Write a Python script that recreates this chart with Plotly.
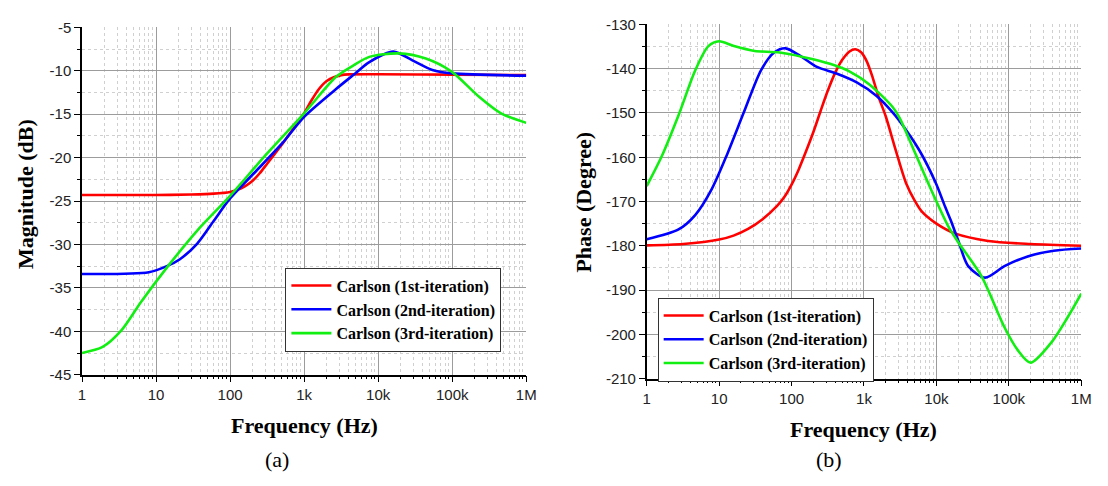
import plotly.graph_objects as go

# ---- (a) magnitude response, dB ----
mag_f_1st = [1, 10, 30, 60, 100, 126, 158, 200, 251, 316, 398, 501, 631, 794, 1000, 1259, 1585,
             1995, 2512, 3162, 3981, 10000, 100000, 1000000]
mag_v_1st = [-24.3, -24.3, -24.25, -24.15, -23.95, -23.7, -23.3, -22.7, -21.8, -20.7, -19.6, -18.5,
             -17.3, -16.1, -14.9, -13.4, -12.1, -11.2, -10.75, -10.5, -10.42, -10.4, -10.45, -10.5]

mag_f_2nd = [1, 8, 14, 21, 36, 60, 100, 210, 500, 1000, 2700, 4600, 7600, 16000, 29000, 54000, 100000, 1000000]
mag_v_2nd = [-33.4, -33.2, -32.5, -31.7, -29.9, -27.3, -24.7, -21.8, -18.4, -15.3, -12.1, -10.5, -9.0, -7.8, -8.8, -9.9, -10.3, -10.56]

mag_f_3rd = [1, 1.9, 3.4, 6.3, 14.5, 36, 100, 310, 1000, 2700, 4600, 7600, 19000, 44000, 98000, 224000, 457000, 1000000]
mag_v_3rd = [-42.5, -41.8, -39.9, -36.6, -32.5, -28.4, -24.4, -19.6, -14.9, -10.7, -9.4, -8.4, -8.0, -8.6, -10.1, -12.9, -14.9, -16.0]

# ---- (b) phase response, degrees ----
ph_f_1st = [1, 3.2, 10, 15.8, 25.1, 39.8, 63.1, 79.4, 100, 126, 158, 200, 251, 316, 398, 501, 631, 759,
            912, 1096, 1318, 1585, 2000, 2754, 3800, 5012, 6310, 10000, 18000, 52000, 200000, 1000000]
ph_v_1st = [-179.9, -179.6, -178.6, -177.7, -176.2, -174.0, -171.0, -169.0, -166.2, -162.7, -158.7,
            -154.3, -149.6, -145.0, -141.0, -138.0, -136.1, -135.6, -136.3, -138.4, -142.0, -146.3,
            -150.8, -158.5, -165.8, -169.8, -172.3, -175.0, -177.2, -178.9, -179.6, -180.0]

ph_f_2nd = [1, 2.75, 4.7, 7.9, 13, 22, 38, 58, 83, 132, 224, 417, 794, 1480, 2500, 3100, 5750, 9800, 13200, 16000, 20000, 27500, 47000, 87000, 182000, 417000, 1000000]
ph_v_2nd = [-178.5, -176.3, -173.0, -167.2, -159.2, -149.8, -140.3, -136.3, -135.4, -137.1, -139.6, -141.1, -143.1, -146.1, -149.9, -151.8, -158.3, -165.8, -171.2, -174.5, -178.8, -184.6, -187.2, -184.6, -182.4, -181.1, -180.6]

ph_f_3rd = [1, 1.6, 2.75, 4.7, 7.1, 10, 16, 31, 65, 148, 339, 646, 1200, 2500, 3100, 5100, 8700, 14800, 20000, 41700, 87000, 132000, 200000, 380000, 646000, 1000000]
ph_v_3rd = [-166.5, -159.9, -150.5, -140.3, -134.9, -133.8, -134.9, -136.0, -136.3, -137.4, -138.9, -140.7, -143.6, -148.7, -151.1, -159.1, -167.8, -175.8, -179.2, -186.8, -198.4, -203.5, -206.4, -202.0, -196.2, -190.8]

series_names = ["Carlson (1st-iteration)", "Carlson (2nd-iteration)", "Carlson (3rd-iteration)"]
series_colors = ["#ff0000", "#0000ff", "#11ee11"]

freq_ticks = [1, 10, 100, 1000, 10000, 100000, 1000000]
freq_labels = ["1", "10", "100", "1k", "10k", "100k", "1M"]
mag_ticks = [-45, -40, -35, -30, -25, -20, -15, -10, -5]
phase_ticks = [-210, -200, -190, -180, -170, -160, -150, -140, -130]

freq_minor = [m * 10 ** d for d in range(6) for m in range(2, 10)]
mag_minor = [t + 2.5 for t in mag_ticks[:-1]]
phase_minor = [t + 5 for t in phase_ticks[:-1]]

fig = go.Figure()

mag_sets = [(mag_f_1st, mag_v_1st), (mag_f_2nd, mag_v_2nd), (mag_f_3rd, mag_v_3rd)]
ph_sets = [(ph_f_1st, ph_v_1st), (ph_f_2nd, ph_v_2nd), (ph_f_3rd, ph_v_3rd)]

for (f, v), name, col in zip(mag_sets, series_names, series_colors):
    fig.add_trace(go.Scatter(x=f, y=v, mode="lines", name=name,
                             line=dict(color=col, width=2.6, shape="spline", smoothing=0.8),
                             xaxis="x", yaxis="y", legend="legend"))

for (f, v), name, col in zip(ph_sets, series_names, series_colors):
    fig.add_trace(go.Scatter(x=f, y=v, mode="lines", name=name,
                             line=dict(color=col, width=2.6, shape="spline", smoothing=0.8),
                             xaxis="x2", yaxis="y2", legend="legend2"))

tick_font = dict(family="Liberation Sans, Arial", size=15, color="#222222")
serif_bold = dict(family="Liberation Serif, Times New Roman", size=22, color="black", weight="bold")
caption_font = dict(family="Liberation Serif, Times New Roman", size=22, color="black")

def x_axis(domain, anchor):
    return dict(domain=domain, anchor=anchor, type="log", range=[0, 6],
                tickvals=freq_ticks, ticktext=freq_labels, tickfont=tick_font,
                ticks="outside", ticklen=6, tickwidth=1.2, tickcolor="black",
                showline=True, linecolor="black", linewidth=1.5,
                showgrid=True, gridcolor="#9c9c9c", gridwidth=1, zeroline=False,
                minor=dict(tickvals=freq_minor, ticks="outside", ticklen=3, tickwidth=1,
                           tickcolor="black", showgrid=True, gridcolor="#d0d0d0",
                           griddash="dot", gridwidth=1))

def y_axis(domain, anchor, rng, ticks, minor):
    return dict(domain=domain, anchor=anchor, range=rng,
                tickvals=ticks, ticktext=[str(t) for t in ticks], tickfont=tick_font,
                ticks="outside", ticklen=6, tickwidth=1.2, tickcolor="black",
                showline=True, linecolor="black", linewidth=1.5,
                showgrid=True, gridcolor="#9c9c9c", gridwidth=1, zeroline=False,
                minor=dict(tickvals=minor, ticks="outside", ticklen=3, tickwidth=1,
                           tickcolor="black", showgrid=True, gridcolor="#d0d0d0",
                           griddash="dot", gridwidth=1))

legend_style = dict(xref="paper", yref="paper", xanchor="left", yanchor="top",
                    bgcolor="white", bordercolor="#333333", borderwidth=1,
                    font=dict(family="Liberation Serif, Times New Roman", size=16,
                              color="black", weight="bold"),
                    tracegroupgap=0, itemwidth=40)

fig.update_layout(
    width=1108, height=486,
    margin=dict(l=0, r=0, t=0, b=0),
    paper_bgcolor="white", plot_bgcolor="white",
    showlegend=True,
    xaxis=x_axis([0.0713, 0.4774], "y"),
    yaxis=y_axis([0.2202, 0.9609], "x", [-45, -5], mag_ticks, mag_minor),
    xaxis2=x_axis([0.5875, 0.9847], "y2"),
    yaxis2=y_axis([0.2119, 0.9671], "x2", [-210, -130], phase_ticks, phase_minor),
    legend=dict(legend_style, x=0.2572, y=0.4486),
    legend2=dict(legend_style, x=0.5975, y=0.3848),
)

annotations = [
    dict(text="Frequency (Hz)", x=0.2744, y=1 - 432 / 486, font=serif_bold),
    dict(text="Frequency (Hz)", x=0.7860, y=1 - 436 / 486, font=serif_bold),
    dict(text="Magnitude (dB)", x=22 / 1108, y=1 - 192 / 486, textangle=-90, font=serif_bold),
    dict(text="Phase (Degree)", x=586 / 1108, y=1 - 200 / 486, textangle=-90, font=serif_bold),
    dict(text="(a)", x=276 / 1108, y=1 - 467 / 486, font=caption_font),
    dict(text="(b)", x=836 / 1108, y=1 - 467 / 486, font=caption_font),
]
for a in annotations:
    fig.add_annotation(xref="paper", yref="paper", showarrow=False,
                       xanchor="center", yanchor="middle", **a)

fig.write_html("out.html")
